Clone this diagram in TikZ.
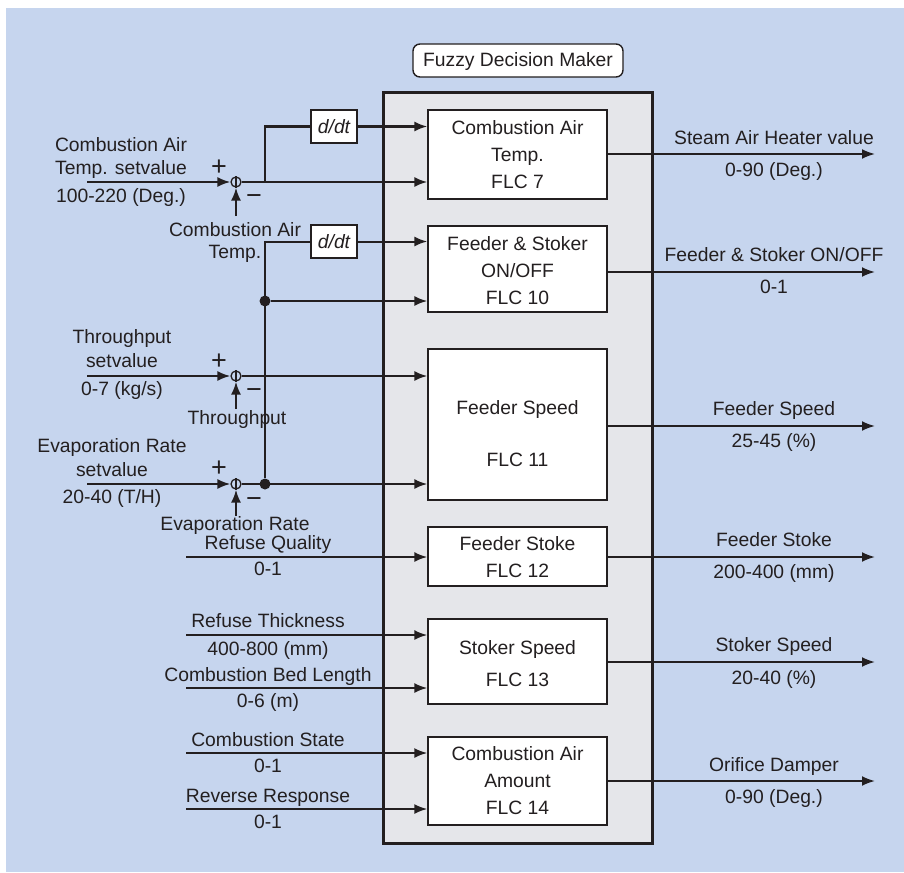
\documentclass[tikz,border=0pt]{standalone}
\usepackage{fontspec}
\setmainfont{Liberation Sans}
\usetikzlibrary{arrows.meta}
\definecolor{bgblue}{HTML}{C6D5EE}
\definecolor{panelgrey}{HTML}{E5E6EA}
\definecolor{ink}{HTML}{231F20}
\begin{document}
\begin{tikzpicture}[x=1pt,y=-1pt,
 every node/.style={font=\fontsize{19.3}{26}\selectfont, text=ink},
 lbl/.style={anchor=base, inner sep=0pt},
 sign/.style={inner sep=0pt, font=\fontsize{27}{30}\selectfont},
 flc/.style={draw=ink, line width=1.4pt, fill=white, inner sep=0pt, minimum width=179pt},
 ddt/.style={draw=ink, line width=1.4pt, fill=white, minimum width=46pt, minimum height=33pt, inner sep=0pt},
 sumj/.style={circle, draw=ink, line width=1.3pt, minimum size=10pt, inner sep=0pt},
 dotj/.style={circle, fill=ink, minimum size=11pt, inner sep=0pt},
 wire/.style={draw=ink, line width=2pt},
 arr/.style={wire, -{Latex[length=13pt,width=10pt]}},
 ]
\useasboundingbox (0,0) rectangle (904,872);
\fill[white] (0,0) rectangle (904,872);
\fill[bgblue] (6,8) rectangle (904,872);

% panel
\node[draw=ink, line width=3pt, fill=panelgrey, minimum width=269pt, minimum height=750pt, inner sep=0pt] (panel) at (517.5,468) {};
\node[draw=ink, line width=1.4pt, rounded corners=7pt, fill=white, minimum width=210pt, minimum height=33pt, inner sep=0pt] (title) at (518,60.5) {};
\node[lbl] (titletxt) at (518,67) {Fuzzy Decision Maker};

% FLC boxes
\node[flc, minimum height=89pt] (f7) at (517.5,154.5) {};
\node[flc, minimum height=86pt] (f10) at (517.5,269) {};
\node[flc, minimum height=151pt] (f11) at (517.5,424.5) {};
\node[flc, minimum height=59pt] (f12) at (517.5,556.5) {};
\node[flc, minimum height=85pt] (f13) at (517.5,661.5) {};
\node[flc, minimum height=88pt] (f14) at (517.5,781) {};

\node[lbl] (f7a) at (517.5,134) {Combustion Air};
\node[lbl] (f7b) at (517.5,161) {Temp.};
\node[lbl] (f7c) at (517.5,188) {FLC 7};
\node[lbl] (f10a) at (517.5,250) {Feeder \& Stoker};
\node[lbl] (f10b) at (517.5,277) {ON/OFF};
\node[lbl] (f10c) at (517.5,304) {FLC 10};
\node[lbl] (f11a) at (517.5,414) {Feeder Speed};
\node[lbl] (f11c) at (517.5,466) {FLC 11};
\node[lbl] (f12a) at (517.5,550) {Feeder Stoke};
\node[lbl] (f12c) at (517.5,577) {FLC 12};
\node[lbl] (f13a) at (517.5,654) {Stoker Speed};
\node[lbl] (f13c) at (517.5,686) {FLC 13};
\node[lbl] (f14a) at (517.5,760) {Combustion Air};
\node[lbl] (f14b) at (517.5,787) {Amount};
\node[lbl] (f14c) at (517.5,814) {FLC 14};

% outputs
\coordinate (o7) at (875,154);
\coordinate (o10) at (875,272);
\coordinate (o11) at (875,426);
\coordinate (o12) at (875,557);
\coordinate (o13) at (875,662);
\coordinate (o14) at (875,781);
\foreach \b/\o in {f7/o7,f10/o10,f11/o11,f12/o12,f13/o13,f14/o14}
  \draw[arr] (\o -| \b.east) -- (\o);

\node[lbl] (r7a) at (774,144) {Steam Air Heater value};
\node[lbl] (r7b) at (774,176) {0-90 (Deg.)};
\node[lbl] (r10a) at (774,261) {Feeder \& Stoker ON/OFF};
\node[lbl] (r10b) at (774,293) {0-1};
\node[lbl] (r11a) at (774,415) {Feeder Speed};
\node[lbl] (r11b) at (774,447) {25-45 (\%)};
\node[lbl] (r12a) at (774,546) {Feeder Stoke};
\node[lbl] (r12b) at (774,578) {200-400 (mm)};
\node[lbl] (r13a) at (774,651) {Stoker Speed};
\node[lbl] (r13b) at (774,684) {20-40 (\%)};
\node[lbl] (r14a) at (774,771) {Orifice Damper};
\node[lbl] (r14b) at (774,803) {0-90 (Deg.)};

% summing junctions
\node[sumj] (s1) at (236,182) {};
\node[sumj] (s2) at (236,376) {};
\node[sumj] (s3) at (236,484) {};
\foreach \s in {s1,s2,s3}
  \draw[ink, line width=1.3pt] (\s.north) -- (\s.south);

\coordinate (in1) at (87,182);
\coordinate (in2) at (87,376);
\coordinate (in3) at (87,484);
\draw[arr] (in1) -- (s1.west);
\draw[arr] (in2) -- (s2.west);
\draw[arr] (in3) -- (s3.west);

\coordinate (fb1) at (236,216);
\coordinate (fb2) at (236,409);
\coordinate (fb3) at (236,516);
\draw[arr] (fb1) -- (s1.south);
\draw[arr] (fb2) -- (s2.south);
\draw[arr] (fb3) -- (s3.south);

\foreach \y in {168,362,469} \node[sign] (p\y) at (219,\y) {+};
\foreach \y in {200,394,503} \node[sign] (m\y) at (254,\y) {−};

% d/dt blocks and branches
\node[ddt] (d1) at (334,126.5) {};
\node[ddt] (d2) at (334,241.5) {};
\node[lbl, font=\fontsize{19.3}{26}\selectfont\itshape] (d1t) at (334,133.5) {d/dt};
\node[lbl, font=\fontsize{19.3}{26}\selectfont\itshape] (d2t) at (334,248.5) {d/dt};

\coordinate (b1) at (265,182);
\node[dotj] (j1) at (265,301) {};
\node[dotj] (j2) at (265,484) {};

\draw[arr] (s1.east) -- (s1.east -| f7.west);
\draw[wire] (b1) |- (d1.west);
\draw[arr] (d1.east) -- (d1.east -| f7.west);
\draw[wire] (j2) |- (d2.west);
\draw[arr] (d2.east) -- (d2.east -| f10.west);
\draw[arr] (j1) -- (j1 -| f10.west);
\draw[arr] (s2.east) -- (s2.east -| f11.west);
\draw[arr] (s3.east) -- (s3.east -| f11.west);

% lower inputs
\coordinate (iq) at (186,557);
\coordinate (it) at (186,635);
\coordinate (ib) at (186,688);
\coordinate (is) at (186,753);
\coordinate (ir) at (186,809);
\draw[arr] (iq) -- (iq -| f12.west);
\draw[arr] (it) -- (it -| f13.west);
\draw[arr] (ib) -- (ib -| f13.west);
\draw[arr] (is) -- (is -| f14.west);
\draw[arr] (ir) -- (ir -| f14.west);

% left labels
\node[lbl] (l1a) at (121,151.5) {Combustion Air};
\node[lbl] (l1b) at (121,174) {Temp. setvalue};
\node[lbl] (l1c) at (121,202) {100-220 (Deg.)};
\node[lbl] (fl1a) at (235,236) {Combustion Air};
\node[lbl] (fl1b) at (235,258) {Temp.};
\node[lbl] (l2a) at (122,343) {Throughput};
\node[lbl] (l2b) at (122,367) {setvalue};
\node[lbl] (l2c) at (122,395) {0-7 (kg/s)};
\node[lbl] (fl2) at (237,424) {Throughput};
\node[lbl] (l3a) at (112,452) {Evaporation Rate};
\node[lbl] (l3b) at (112,476) {setvalue};
\node[lbl] (l3c) at (112,503) {20-40 (T/H)};
\node[lbl] (fl3) at (235,530) {Evaporation Rate};
\node[lbl] (lqa) at (268,549) {Refuse Quality};
\node[lbl] (lqb) at (268,575) {0-1};
\node[lbl] (lta) at (268,627) {Refuse Thickness};
\node[lbl] (ltb) at (268,655) {400-800 (mm)};
\node[lbl] (lba) at (268,681) {Combustion Bed Length};
\node[lbl] (lbb) at (268,707) {0-6 (m)};
\node[lbl] (lsa) at (268,746) {Combustion State};
\node[lbl] (lsb) at (268,772) {0-1};
\node[lbl] (lra) at (268,802) {Reverse Response};
\node[lbl] (lrb) at (268,828) {0-1};
\end{tikzpicture}
\end{document}
